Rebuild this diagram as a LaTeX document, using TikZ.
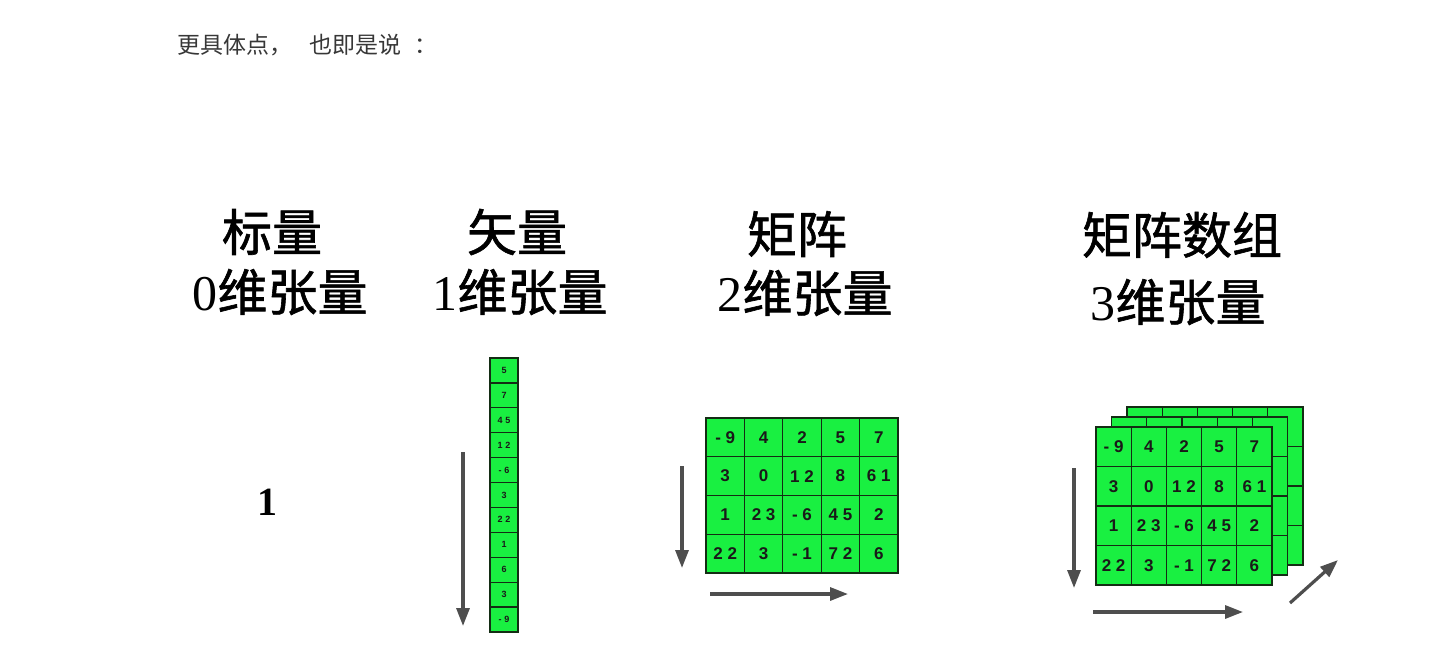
\documentclass[tikz,border=0pt]{standalone}
\usepackage{fontspec}
\setmainfont{Liberation Serif}
\newfontfamily\cjk{Noto Sans CJK SC}
\newfontfamily\cjkhead[FakeBold=1.2]{Noto Sans CJK SC}
\newfontfamily\cellfont{Liberation Sans Bold}
\usetikzlibrary{arrows.meta}
\definecolor{cellgreen}{RGB}{25,240,65}
\definecolor{arrgray}{RGB}{78,78,78}
\definecolor{toptext}{RGB}{55,55,55}
\definecolor{gridline}{RGB}{20,45,20}
\newcommand\dsp{\hspace{0.28em}}
\begin{document}
\begin{tikzpicture}[x=1pt,y=-1pt,
  head/.style={font=\cjkhead\fontsize{50}{60}\selectfont, inner sep=0pt, anchor=center},
  cellbase/.style={draw=gridline, line width=1.2pt, fill=cellgreen, inner sep=0pt, text=black!90},
  mcell/.style={cellbase, minimum width=38.4pt, minimum height=38.75pt, font=\cellfont\fontsize{17}{17}\selectfont},
  acell/.style={cellbase, minimum width=35.2pt, minimum height=39.5pt, font=\cellfont\fontsize{17}{17}\selectfont},
  vcell/.style={cellbase, minimum width=28pt, minimum height=24.9pt, font=\cellfont\fontsize{9}{9}\selectfont},
  arr/.style={draw=arrgray, line width=3.2pt, -{Triangle[length=18pt,width=13pt]}}]
\useasboundingbox (0,0) rectangle (1455,663);

% top sentence
\node[font=\cjk\fontsize{23}{27}\selectfont, text=toptext, anchor=west, inner sep=0pt] (intro) at (177,45) {更具体点，\hspace{17pt}也即是说\hspace{13pt}：};

% headings
\node[head] (h0a) at (272,232) {标量};
\node[head] (h0b) at (280,292) {{\rmfamily 0}维张量};
\node[head] (h1a) at (517,232) {矢量};
\node[head] (h1b) at (520,292) {{\rmfamily 1}维张量};
\node[head] (h2a) at (797,234) {矩阵};
\node[head] (h2b) at (805,293) {{\rmfamily 2}维张量};
\node[head] (h3a) at (1182,235) {矩阵数组};
\node[head] (h3b) at (1178,302) {{\rmfamily 3}维张量};

% scalar
\node[font=\bfseries\fontsize{40}{40}\selectfont, inner sep=0pt] (scalar) at (267,502) {1};

% vector
\foreach [count=\r] \v in {5,7,4\dsp 5,1\dsp 2,-\dsp 6,3,2\dsp 2,1,6,3,-\dsp 9}
  \node[vcell] (v-\r) at ({504}, {358+24.9*(\r-0.5)}) {\v};

% matrix
\foreach [count=\r] \rowvals in {{-\dsp 9,4,2,5,7},{3,0,1\dsp 2,8,6\dsp 1},{1,2\dsp 3,-\dsp 6,4\dsp 5,2},{2\dsp 2,3,-\dsp 1,7\dsp 2,6}}
  \foreach [count=\c] \v in \rowvals
    \node[mcell] (m-\r-\c) at ({706+38.4*(\c-0.5)}, {418+38.75*(\r-0.5)}) {\v};

% 3-d array: back layers
\foreach \k/\ox/\oy in {2/31/-20, 1/15.5/-10}
  \foreach \r in {1,...,4}
    \foreach \c in {1,...,5}
      \node[acell] (b\k-\r-\c) at ({1096+\ox+35.2*(\c-0.5)}, {427+\oy+39.5*(\r-0.5)}) {};
% front layer
\foreach [count=\r] \rowvals in {{-\dsp 9,4,2,5,7},{3,0,1\dsp 2,8,6\dsp 1},{1,2\dsp 3,-\dsp 6,4\dsp 5,2},{2\dsp 2,3,-\dsp 1,7\dsp 2,6}}
  \foreach [count=\c] \v in \rowvals
    \node[acell] (a-\r-\c) at ({1096+35.2*(\c-0.5)}, {427+39.5*(\r-0.5)}) {\v};

% arrows
\coordinate (va1) at (463,452); \coordinate (va2) at (463,626);
\coordinate (md1) at (682,466); \coordinate (md2) at (682,568);
\coordinate (mr1) at (710,594); \coordinate (mr2) at (848,594);
\coordinate (ad1) at (1074,468); \coordinate (ad2) at (1074,588);
\coordinate (ar1) at (1093,612); \coordinate (ar2) at (1243,612);
\coordinate (ag1) at (1290,603); \coordinate (ag2) at (1338,560);
\draw[arr] (va1) -- (va2);
\draw[arr] (md1) -- (md2);
\draw[arr] (mr1) -- (mr2);
\draw[arr] (ad1) -- (ad2);
\draw[arr] (ar1) -- (ar2);
\draw[arr] (ag1) -- (ag2);
\end{tikzpicture}
\end{document}
